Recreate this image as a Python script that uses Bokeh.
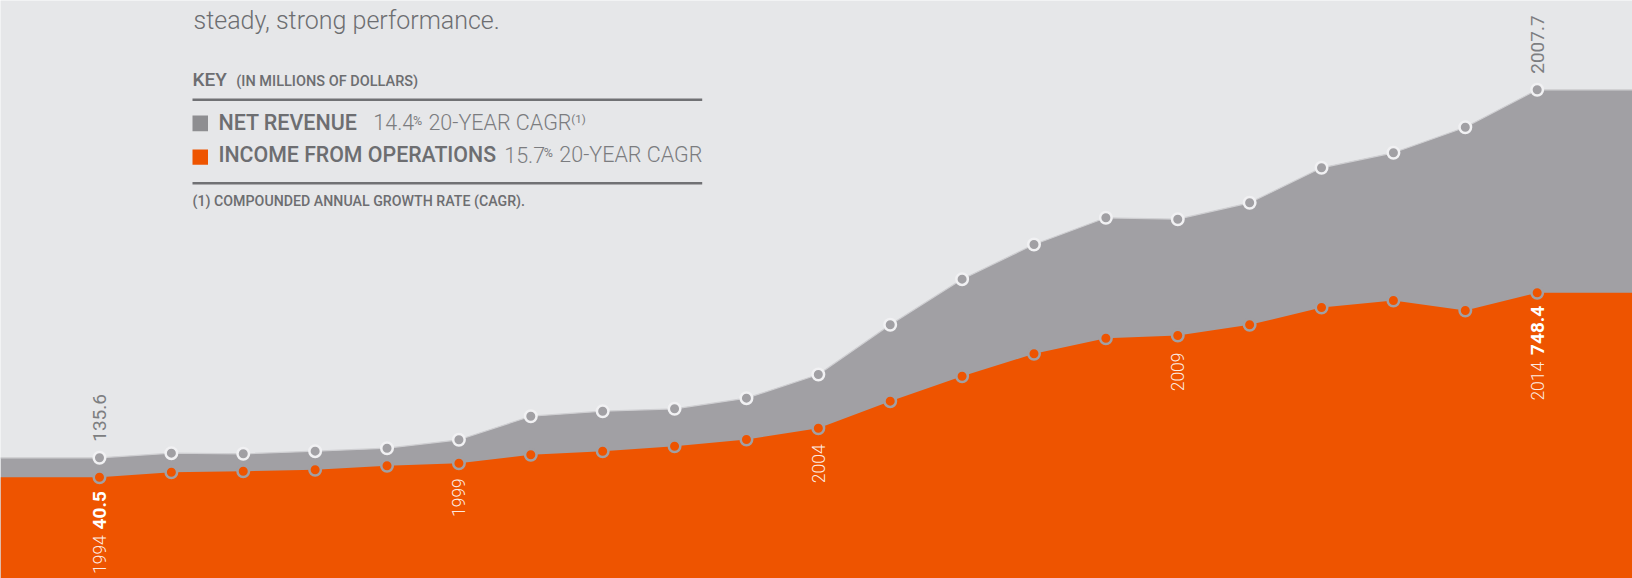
import math
from bokeh.plotting import figure
from bokeh.models import Range1d
from bokeh.core.properties import value
from bokeh.embed import file_html
from bokeh.resources import INLINE

# ---------------- data (millions of dollars) ----------------
years = list(range(1994, 2015))
net_revenue = [135.6, 159.0, 155.9, 169.2, 184.4, 227.1, 347.2, 372.6, 384.9, 438.8,
               559.3, 812.2, 1044.2, 1220.7, 1356.5, 1349.4, 1432.8, 1610.9, 1687.2,
               1817.4, 2007.7]
income_ops = [40.5, 59.7, 63.5, 68.9, 84.3, 94.2, 126.5, 140.3, 159.5, 185.2,
              228.2, 332.3, 428.2, 514.2, 574.1, 584.5, 625.6, 692.0, 718.8,
              680.5, 748.4]
tick_years = [1994, 1999, 2004, 2009, 2014]

# ---------------- styling ----------------
BG = "#e6e7e9"
GRAY = "#a1a0a4"
ORANGE = "#ee5400"
TXT = "#6d6e71"
TXT_L = "#7b7c7f"
LIGHT = value("Roboto Light, Roboto")
REG = value("Roboto")
MED = value("Roboto Medium, Roboto")

W, H = 1632, 578
X0, X1 = 1992.623, 2015.326
REV_LO, REV_HI = -478.5, 2462.0
OPS_LO, OPS_HI = -348.4, 1870.5

p = figure(width=W, height=H, output_backend="svg", toolbar_location=None,
           x_range=Range1d(X0, X1), y_range=Range1d(REV_LO, REV_HI),
           x_axis_type=None, y_axis_type=None, min_border=0,
           background_fill_color=BG, border_fill_color=BG, outline_line_color=None)
p.grid.visible = False
p.extra_y_ranges = {"ops": Range1d(OPS_LO, OPS_HI), "py": Range1d(H, 0)}
p.extra_x_ranges = {"px": Range1d(0, W)}

# extended series (flat continuation to the plot edges)
xe = [X0] + years + [X1]
rev_e = [net_revenue[0]] + net_revenue + [net_revenue[-1]]
ops_e = [income_ops[0]] + income_ops + [income_ops[-1]]

p.varea(x=xe, y1=[REV_LO] * len(xe), y2=rev_e, fill_color=GRAY)
p.line(x=xe, y=rev_e, line_color="#cfcfd2", line_width=1.2)
p.varea(x=xe, y1=[OPS_LO] * len(xe), y2=ops_e, fill_color=ORANGE, y_range_name="ops")

p.scatter(x=years, y=net_revenue, size=11.5, fill_color=GRAY, line_color="#f1f1f3",
          line_width=2.5)
p.scatter(x=years, y=income_ops, size=11.5, fill_color=ORANGE, line_color=GRAY,
          line_width=2.5, y_range_name="ops")

# value labels (rotated)
p.text(x=[years[0], years[-1]], y=[net_revenue[0], net_revenue[-1]],
       text=[f"{net_revenue[0]:.1f}", f"{net_revenue[-1]:.1f}"], angle=math.pi / 2,
       text_align="left", text_baseline="middle", y_offset=-16,
       text_font=REG, text_font_size="19px", text_color="#7d7e81")
p.text(x=[years[0], years[-1]], y=[income_ops[0], income_ops[-1]],
       text=[f"{income_ops[0]:.1f}", f"{income_ops[-1]:.1f}"], angle=math.pi / 2,
       text_align="right", text_baseline="middle", y_offset=[14, 13],
       text_font=REG, text_font_style="bold", text_font_size="19px", text_color="white",
       y_range_name="ops")
ty_vals = [income_ops[years.index(y)] for y in tick_years]
offs = [58, 15, 16, 17, 69]
p.text(x=tick_years, y=ty_vals, text=[str(y) for y in tick_years], angle=math.pi / 2,
       text_align="right", text_baseline="middle", y_offset=offs,
       text_font=LIGHT, text_font_size="17.5px", text_color="white", text_alpha=0.9,
       y_range_name="ops")

# ---------------- headline & key (page pixel coordinates) ----------------
def t(x, y, s, size, font=LIGHT, style="normal", color=TXT, align="left"):
    p.text(x=[x], y=[y - 0.42 * size], text=[s], text_font=font, text_font_style=style,
           text_font_size=f"{size}px", text_color=color, text_align=align,
           text_baseline="alphabetic", x_range_name="px", y_range_name="py")

t(193, 30.7, "steady, strong performance.", 25)
t(192, 87.3, "KEY", 19, font=MED)
t(235.8, 87.3, "(IN MILLIONS OF DOLLARS)", 14.5, font=MED)
p.segment(x0=[192, 192], y0=[99.3, 182.7], x1=[701.7, 701.7], y1=[99.3, 182.7],
          line_color="#707174", line_width=2.5, x_range_name="px", y_range_name="py")
p.quad(left=[192, 192], right=[207.5, 207.5], top=[115, 149], bottom=[130.7, 164.2],
       fill_color=["#8e8e91", ORANGE], line_color=None, x_range_name="px", y_range_name="py")

t(217.9, 130.7, "NET REVENUE", 21.5, font=MED)
t(372.8, 130.7, "14.4", 21.5, color=TXT_L)
t(412.5, 125.0, "%", 12.5, font=REG, color=TXT_L)
t(427.9, 130.7, "20-YEAR CAGR", 21.5, color=TXT_L)
t(570.8, 123.0, "(1)", 11.5, font=REG, color=TXT_L)

t(217.9, 163.3, "INCOME FROM OPERATIONS", 21.3, font=MED)
t(503.7, 163.3, "15.7", 21.5, color=TXT_L)
t(543.2, 157.6, "%", 12.5, font=REG, color=TXT_L)
t(558.8, 163.3, "20-YEAR CAGR", 21.5, color=TXT_L)

t(192, 206.7, "(1) COMPOUNDED ANNUAL GROWTH RATE (CAGR).", 14.2, font=MED)

open("out.html", "w").write(file_html(p, INLINE))
